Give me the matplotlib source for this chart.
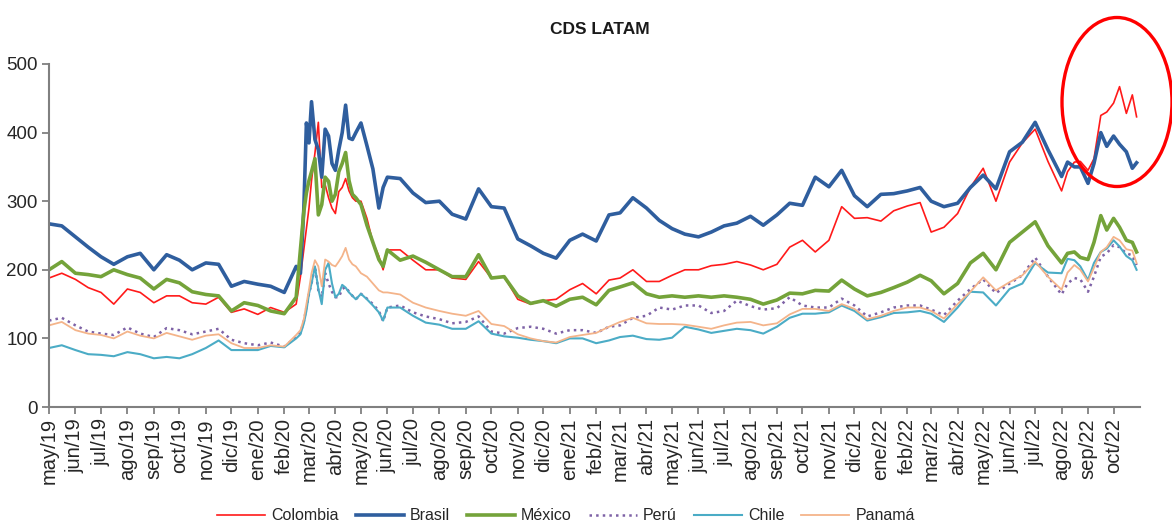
import matplotlib
matplotlib.use("Agg")
import matplotlib.pyplot as plt
import pandas as pd
from matplotlib.patches import Ellipse

plt.rcParams["font.family"] = ["Liberation Sans Narrow", "Liberation Sans", "DejaVu Sans"]

# fechas de lectura (quincenal, más denso en el choque de 2020 y al final)
dates = [
    "2019-05-01", "2019-05-16", "2019-06-01", "2019-06-16", "2019-07-01", "2019-07-16",
    "2019-08-01", "2019-08-16", "2019-09-01", "2019-09-16", "2019-10-01", "2019-10-16",
    "2019-11-01", "2019-11-16", "2019-12-01", "2019-12-16", "2020-01-01", "2020-01-16",
    "2020-02-01", "2020-02-15",
    "2020-02-20", "2020-02-24", "2020-02-27", "2020-03-01", "2020-03-04", "2020-03-08",
    "2020-03-12", "2020-03-16", "2020-03-20", "2020-03-24", "2020-03-28", "2020-04-01",
    "2020-04-05", "2020-04-09", "2020-04-13", "2020-04-17", "2020-04-21", "2020-04-25",
    "2020-05-01", "2020-05-08", "2020-05-15", "2020-05-22", "2020-05-27",
    "2020-06-01", "2020-06-16", "2020-07-01", "2020-07-16", "2020-08-01", "2020-08-16",
    "2020-09-01", "2020-09-16", "2020-10-01", "2020-10-16", "2020-11-01", "2020-11-16",
    "2020-12-01", "2020-12-16", "2021-01-01", "2021-01-16", "2021-02-01", "2021-02-16",
    "2021-03-01", "2021-03-16", "2021-04-01", "2021-04-16", "2021-05-01", "2021-05-16",
    "2021-06-01", "2021-06-16", "2021-07-01", "2021-07-16", "2021-08-01", "2021-08-16",
    "2021-09-01", "2021-09-16", "2021-10-01", "2021-10-16", "2021-11-01", "2021-11-16",
    "2021-12-01", "2021-12-16", "2022-01-01", "2022-01-16", "2022-02-01", "2022-02-16",
    "2022-03-01", "2022-03-16", "2022-04-01", "2022-04-16", "2022-05-01", "2022-05-16",
    "2022-06-01", "2022-06-16", "2022-07-01", "2022-07-16",
    "2022-08-01", "2022-08-08", "2022-08-16", "2022-08-23", "2022-09-01", "2022-09-08",
    "2022-09-16", "2022-09-23", "2022-10-01", "2022-10-08", "2022-10-16", "2022-10-23",
    "2022-10-28",
]

colombia = [
    188, 195, 186, 174, 167, 150, 172, 167, 152, 162, 162, 152, 150, 160, 138, 143, 135, 145, 138, 150,
    190, 230, 260, 290, 330, 370, 415, 320, 324, 305, 290, 282, 314, 320, 333, 315, 305, 300, 300, 275,
    240, 220, 200,
    229, 229, 214, 200, 200, 188, 186, 212, 188, 190, 157, 150, 155, 157, 171, 180, 165, 185, 188, 200,
    183, 183, 192, 200, 200, 206, 208, 212, 207, 200, 208, 233, 243, 226, 243, 292, 275, 276, 271, 286,
    293, 298, 255, 262, 282, 320, 348, 300, 357, 385, 405, 358,
    315, 343, 357, 358, 345, 362, 425, 430, 443, 467, 428, 455, 423,
]
brasil = [
    267, 264, 248, 233, 219, 208, 219, 224, 200, 222, 214, 200, 210, 208, 176, 183, 179, 176, 167, 205,
    195, 290, 414, 385, 445, 390, 375, 335, 405, 395, 355, 345, 375, 400, 440, 392, 390, 400, 414, 381,
    347, 290, 320,
    335, 333, 312, 298, 300, 281, 274, 318, 292, 290, 245, 235, 224, 217, 243, 252, 242, 280, 283, 305,
    290, 272, 260, 252, 248, 255, 264, 268, 278, 265, 280, 297, 294, 335, 321, 345, 308, 292, 310, 311,
    315, 320, 300, 292, 297, 320, 338, 318, 372, 386, 415, 375,
    336, 357, 350, 350, 326, 355, 400, 380, 395, 383, 372, 348, 356,
]
mexico = [
    200, 212, 195, 193, 190, 200, 193, 188, 172, 186, 181, 168, 164, 162, 140, 152, 148, 140, 136, 160,
    230, 285, 312, 330, 343, 362, 280, 295, 335, 329, 300, 310, 343, 355, 371, 330, 310, 305, 295, 265,
    240, 215, 205,
    229, 214, 220, 211, 200, 190, 190, 222, 188, 190, 162, 151, 155, 147, 157, 160, 149, 170, 175, 181,
    165, 160, 162, 160, 162, 160, 162, 160, 157, 150, 156, 166, 165, 170, 169, 185, 172, 162, 167, 174,
    182, 192, 184, 165, 180, 210, 224, 200, 240, 255, 270, 235,
    210, 224, 226, 218, 215, 240, 279, 258, 275, 262, 243, 240, 226,
]
peru = [
    126, 130, 119, 110, 107, 105, 116, 107, 102, 115, 112, 106, 110, 114, 98, 93, 90, 94, 88, 102,
    108, 125, 145, 165, 180, 205, 170, 160, 195, 180, 168, 160, 160, 172, 175, 168, 162, 157, 165, 158,
    150, 140, 125,
    145, 148, 138, 132, 128, 122, 124, 132, 110, 107, 115, 117, 114, 107, 112, 112, 108, 117, 119, 130,
    133, 145, 142, 148, 148, 137, 140, 155, 147, 142, 144, 160, 148, 145, 145, 158, 148, 132, 138, 145,
    148, 148, 142, 134, 155, 172, 186, 166, 180, 192, 218, 190,
    164, 180, 188, 186, 168, 190, 219, 224, 236, 233, 224, 221, 207,
]
chile = [
    86, 90, 83, 77, 76, 74, 80, 77, 71, 73, 71, 77, 86, 97, 83, 83, 83, 89, 87, 100,
    106, 122, 140, 165, 180, 205, 172, 150, 200, 210, 180, 160, 165, 178, 174, 167, 162, 157, 165, 157,
    148, 138, 126,
    145, 145, 133, 123, 120, 114, 114, 125, 107, 103, 101, 98, 96, 93, 100, 100, 93, 97, 102, 104,
    99, 98, 101, 117, 113, 108, 111, 114, 112, 107, 117, 130, 136, 136, 138, 148, 140, 126, 131, 137,
    138, 140, 136, 124, 145, 168, 167, 148, 172, 180, 210, 196,
    195, 216, 214, 205, 185, 210, 226, 231, 243, 234, 220, 214, 200,
]
panama = [
    119, 124, 112, 107, 105, 100, 110, 104, 100, 108, 103, 98, 104, 106, 93, 86, 86, 90, 88, 105,
    112, 128, 150, 171, 195, 214, 205, 176, 215, 212, 207, 205, 212, 220, 232, 215, 208, 205, 195, 190,
    180, 170, 167,
    167, 164, 152, 145, 140, 136, 133, 140, 121, 118, 106, 100, 96, 94, 102, 105, 108, 117, 124, 130,
    122, 121, 121, 120, 117, 114, 119, 123, 124, 119, 122, 135, 143, 143, 140, 150, 143, 128, 133, 140,
    145, 145, 140, 129, 150, 168, 189, 170, 182, 192, 212, 190,
    171, 196, 207, 200, 183, 203, 226, 233, 248, 243, 230, 228, 210,
]

month_names = ["ene", "feb", "mar", "abr", "may", "jun", "jul", "ago", "sep", "oct", "nov", "dic"]

series = [
    ("Colombia", colombia, "#FF1A1A", 1.2, "-"),
    ("Brasil", brasil, "#2F5E9E", 2.6, "-"),
    ("México", mexico, "#74A33A", 2.6, "-"),
    ("Perú", peru, "#7E62A6", 1.8, ":"),
    ("Chile", chile, "#4BACC6", 1.5, "-"),
    ("Panamá", panama, "#F4B48A", 1.3, "-"),
]

W, H = 1172, 527
fig = plt.figure(figsize=(W / 100, H / 100), dpi=100)
ax = fig.add_axes([49 / W, 1 - 407 / H, (1140 - 49) / W, (407 - 64) / H])

x = pd.to_datetime(dates)
for name, values, color, lw, ls in series:
    ax.plot(x, values, color=color, lw=lw, ls=ls, label=name, solid_joinstyle="round")

month_ticks = pd.date_range("2019-05-01", "2022-10-01", freq="MS")
ax.set_xticks(month_ticks)
ax.set_xticklabels([f"{month_names[d.month - 1]}/{d.strftime('%y')}" for d in month_ticks],
                   rotation=90, fontsize=14.5, color="#262626")
ax.set_xlim(pd.Timestamp("2019-05-01"), pd.Timestamp("2022-11-01"))

ax.set_ylim(0, 500)
ax.set_yticks(range(0, 501, 100))
ax.tick_params(axis="y", labelsize=13.5, labelcolor="#262626", length=5, width=1.3,
               color="#808080", pad=3)
ax.tick_params(axis="x", length=5, width=1.3, color="#808080", pad=3)

for side in ["top", "right"]:
    ax.spines[side].set_visible(False)
for side in ["left", "bottom"]:
    ax.spines[side].set_color("#808080")
    ax.spines[side].set_linewidth(1.5)

fig.text(600 / W, 1 - 30 / H, "CDS LATAM", ha="center", va="center",
         fontsize=12.5, fontweight="bold", color="#1a1a1a")

fig.legend(loc="center", bbox_to_anchor=(566 / W, 1 - 516 / H), ncol=6, frameon=False,
           fontsize=11.5, handlelength=3.0, handletextpad=0.4, columnspacing=1.05,
           labelcolor="#262626")

fig.add_artist(Ellipse((1117 / W, 1 - 102 / H), 110 / W, 169 / H, fill=False,
                       edgecolor="#FF0000", lw=2.4, transform=fig.transFigure, clip_on=False))

fig.savefig("out.png", dpi=100)
